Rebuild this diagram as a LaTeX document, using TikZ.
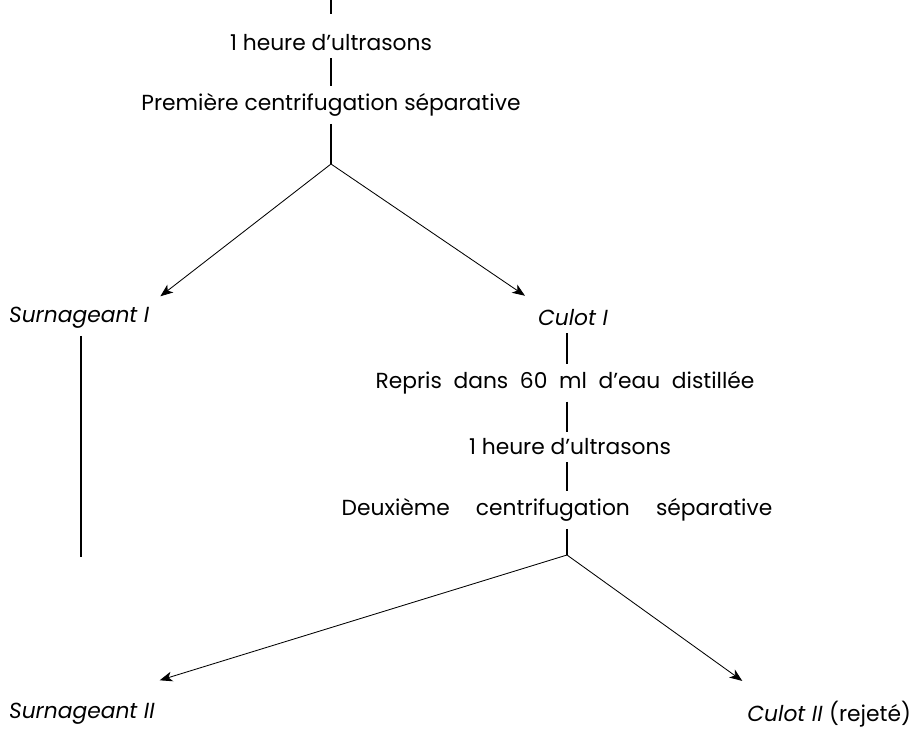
\documentclass[tikz,border=0pt]{standalone}
\usepackage{fontspec}
\setmainfont{Poppins}
\usetikzlibrary{arrows.meta, calc}

\begin{document}
\begin{tikzpicture}[x=0.025cm, y=-0.025cm,
  etape/.style={font=\fontsize{15.5}{18}\selectfont, inner sep=2pt},
  produit/.style={font=\fontsize{15.5}{18}\selectfont\itshape, inner sep=2pt},
  trait/.style={line width=1.1pt, shorten <=3pt, shorten >=3pt},
  fleche/.style={line width=0.6pt, -{Stealth[length=9pt, width=7pt, inset=2.5pt]}}]
  \useasboundingbox (0,0) rectangle (922,733);
  % premiere serie
  \coordinate (haut) at (331,0);
  \node[etape] (ultra1) at (331,43) {1 heure d'ultrasons};
  \node[etape] (prem) at (331,105) {Première centrifugation séparative};
  \coordinate (split1) at (331,164);
  \draw[line width=1.1pt] (haut) -- (haut |- 0,14);
  \draw[trait] (ultra1.south) -- (prem.north);
  \draw[trait, shorten >=0pt] (prem.south) -- (split1);
  % produits de la premiere centrifugation
  \node[produit, anchor=west] (surn1) at (6,318) {Surnageant I};
  \node[produit] (culot1) at (573,318) {Culot I};
  \draw[fleche] (split1) -- ($(surn1.north east)+(8,-8)$);
  \draw[fleche] (split1) -- ($(culot1.north west)+(-10,-11)$);
  \coordinate (bas) at (81,557);
  \draw[trait, shorten >=0pt] (surn1.south -| bas) -- (bas);
  % deuxieme serie
  \coordinate (split2) at (567,555);
  \node[etape] (repris) at (565,383) {Repris\ \ dans\ \ 60\ \ ml\ \ d'eau\ \ distillée};
  \node[etape] (ultra2) at (570,447) {1 heure d'ultrasons};
  \node[etape] (deux) at (557,510) {Deuxième\hspace{1.2em}centrifugation\hspace{1.2em}séparative};
  \draw[trait] (culot1.south -| split2) -- (repris.north -| split2);
  \draw[trait] (repris.south -| split2) -- (ultra2.north -| split2);
  \draw[trait] (ultra2.south -| split2) -- (deux.north -| split2);
  \draw[trait, shorten >=0pt] (deux.south -| split2) -- (split2);
  % produits de la deuxieme centrifugation
  \node[produit, anchor=west] (surn2) at (6,714) {Surnageant II};
  \node[produit, anchor=east] (culot2) at (914,714) {Culot II \upshape(rejeté)};
  \draw[fleche] (split2) -- ($(surn2.north east)+(2,-20)$);
  \draw[fleche] (split2) -- ($(culot2.north west)+(-2,-17)$);
\end{tikzpicture}
\end{document}
